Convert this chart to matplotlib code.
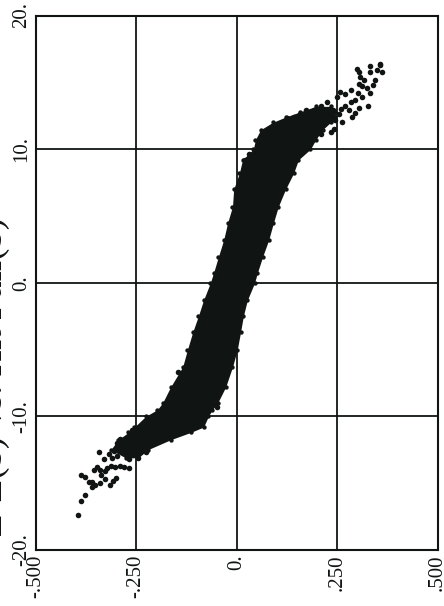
import matplotlib
matplotlib.use('Agg')
import matplotlib.pyplot as plt

plt.rcParams['font.family'] = ['Liberation Serif', 'DejaVu Serif']

x_ticks = [-0.5, -0.25, 0, 0.25, 0.5]
x_labels = ['-.500', '-.250', '0.', '.250', '.500']
y_ticks = [-20, -10, 0, 10, 20]
y_labels = ['-20.', '-10.', '0.', '10.', '20.']

band_y = [-13.1, -12.5, -11.75, -11.2, -10.8, -10.0, -9.5, -9.0, -7.8, -6.3, -5.0, -3.7, -2.5, -1.3,
          0, 0.75, 1.95, 3.2, 4.5, 5.7, 7.0, 8.2, 9.2, 10.0, 10.7, 11.45, 12.0, 12.4, 12.8, 13.2]
band_left = [-.276, -.313, -.294, -.269, -.254, -.226, -.197, -.184, -.164, -.134, -.122, -.109, -.095, -.082,
             -.065, -.057, -.045, -.032, -.022, -.010, -.007, .007, .015, .042, .047, .060, .090, .122, .159, .197]
band_right = [-.244, -.221, -.164, -.114, -.082, -.070, -.060, -.047, -.027, -.010, .002, .010, .017, .027,
              .045, .052, .065, .080, .092, .104, .122, .142, .154, .184, .197, .214, .234, .246, .246, .234]

# separate points in the two tails and along the sides
low_x = [-.395, -.388, -.376, -.386, -.376, -.367, -.359, -.359, -.351, -.340, -.338, -.328, -.315, -.307,
         -.299, -.355, -.348, -.340, -.330, -.322, -.313, -.301, -.289, -.280, -.268, -.326, -.341, -.318,
         -.305, -.309, -.297, -.289, -.280, -.268, -.246, -.226, -.297, -.289, -.272, -.259, -.247, -.243]
low_y = [-17.4, -16.3, -15.9, -14.4, -14.5, -14.9, -14.9, -15.3, -15.1, -15.0, -14.4, -14.7, -15.1, -14.8,
         -14.6, -14.0, -13.8, -14.0, -13.2, -13.9, -13.7, -13.8, -13.7, -13.8, -13.9, -14.1, -12.7, -12.8,
         -12.6, -13.1, -13.0, -12.4, -12.7, -13.2, -13.1, -12.7, -12.0, -11.7, -11.8, -11.0, -10.9, -11.5]
high_x = [.357, .358, .332, .332, .350, .361, .299, .304, .308, .317, .304, .344, .340, .332, .327, .313,
          .325, .313, .302, .285, .271, .257, .250, .304, .296, .288, .279, .263, .242, .234, .209, .284,
          .296, .246, .226, .209, .192, .172, .159, .143, .126, .217, .260, .240, .270, .255]
high_y = [16.4, 16.3, 16.2, 15.8, 15.9, 15.8, 16.0, 15.8, 15.4, 15.2, 14.9, 15.2, 14.8, 14.2, 13.2, 14.7,
          14.6, 13.9, 14.2, 14.4, 14.1, 14.3, 13.9, 13.1, 12.7, 12.4, 12.9, 12.0, 11.5, 11.3, 11.1, 13.5,
          13.7, 12.2, 13.5, 13.2, 12.9, 12.9, 12.6, 12.4, 12.3, 12.0, 13.0, 12.9, 13.2, 12.6]
side_x = [-.145, -.048, .022, .032]
side_y = [-6.7, -9.3, 9.2, 9.6]

ink = '#101514'

fig = plt.figure(figsize=(4.44, 6.06), dpi=100)
ax = fig.add_axes([35.5 / 444, 1 - 550 / 606, 402 / 444, 534.5 / 606])

ax.fill_betweenx(band_y, band_left, band_right, color=ink, lw=0, zorder=3)
ax.scatter(band_left, band_y, s=10, color=ink, lw=0, zorder=3)
ax.scatter(band_right, band_y, s=10, color=ink, lw=0, zorder=3)
ax.scatter(low_x, low_y, s=16, color=ink, lw=0, zorder=3)
ax.scatter(high_x, high_y, s=16, color=ink, lw=0, zorder=3)
ax.scatter(side_x, side_y, s=16, color=ink, lw=0, zorder=3)

ax.set_xlim(-0.5, 0.5)
ax.set_ylim(-20, 20)
ax.set_xticks(x_ticks)
ax.set_yticks(y_ticks)
ax.set_xticklabels(x_labels, rotation=90, fontsize=15, color=ink)
ax.set_yticklabels(y_labels, rotation=90, va='center', fontsize=15, color=ink)
ax.tick_params(axis='x', length=0, pad=3)
ax.tick_params(axis='y', length=0, pad=3)
ax.grid(color=ink, lw=1.3, zorder=1)
ax.set_axisbelow(True)
for s in ax.spines.values():
    s.set_linewidth(1.5)
    s.set_color(ink)

# axis title runs off the left edge of the scan
fig.text(1.5 / 444, 1 - 536 / 606, 'E-E(b) vs. Hit Pull(b)', rotation=90, rotation_mode='anchor',
         ha='left', va='baseline', fontsize=26.5, color=ink)

fig.savefig('out.png', dpi=100)
